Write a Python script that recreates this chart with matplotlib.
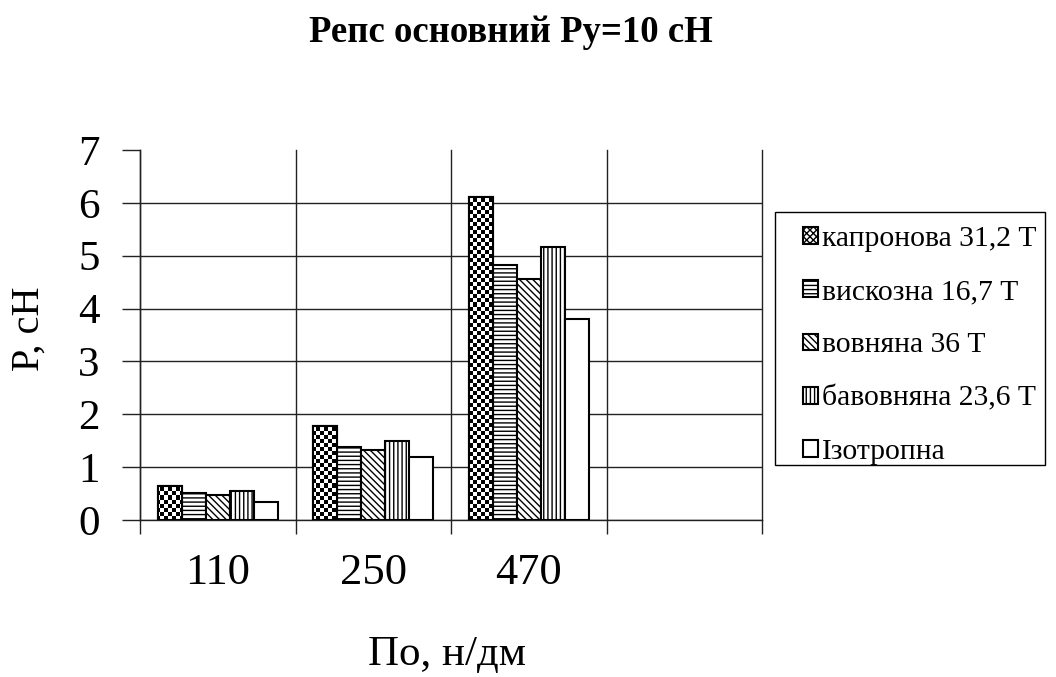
import numpy as np
import matplotlib
matplotlib.use("Agg")
import matplotlib.pyplot as plt
from matplotlib.patches import Patch, Rectangle

plt.rcParams['font.family'] = ['Liberation Serif', 'DejaVu Serif']
plt.rcParams['hatch.linewidth'] = 1.0

# Data
categories = ['110', '250', '470', '']
series_names = ['капронова 31,2 Т', 'вискозна 16,7 Т', 'вовняна 36 Т',
                'бавовняна 23,6 Т', 'Ізотропна']
kapron = [0.65, 1.78, 6.12]
viscose = [0.51, 1.39, 4.83]
wool = [0.47, 1.32, 4.56]
cotton = [0.54, 1.49, 5.17]
isotropic = [0.34, 1.20, 3.80]
series = [kapron, viscose, wool, cotton, isotropic]
hatches = [None, '----', '\\\\\\\\\\', '||||', None]

fig = plt.figure(figsize=(10.56, 6.77), dpi=100)
ax = fig.add_axes([140 / 1056, 1 - 520 / 677, 622 / 1056, 370 / 677])

w = 0.154
x = np.arange(len(kapron)) + 0.5
bars = []
for i, (vals, h) in enumerate(zip(series, hatches)):
    b = ax.bar(x + (i - 2) * w, vals, width=w, facecolor='white',
               edgecolor='black', linewidth=1.5, hatch=h, zorder=3)
    bars.append(b)

# checkerboard fill for the first series
ny, nx = 92, 155
yy, xx = np.indices((ny, nx))
checker = ((yy + xx) % 2).astype(float)
for rect in bars[0]:
    im = ax.imshow(checker, cmap='gray', extent=(0, 4, 0, 7), origin='lower',
                   interpolation='nearest', aspect='auto', zorder=3.5)
    im.set_clip_path(rect)
    r2 = plt.Rectangle(rect.get_xy(), rect.get_width(), rect.get_height(),
                       facecolor='none', edgecolor='black', linewidth=1.5,
                       zorder=4)
    ax.add_patch(r2)

ax.set_xlim(0, 4)
ax.set_ylim(0, 7)

ax.set_xticks(range(5))
ax.set_xticklabels([])
ax.set_xticks(np.arange(4) + 0.5, minor=True)
ax.set_xticklabels(categories, minor=True)
ax.tick_params(axis='x', which='major', length=10, width=1, color='#222222',
               direction='out')
ax.tick_params(axis='x', which='minor', length=0, pad=24, labelsize=32)
ax.set_yticks(range(8))
ax.tick_params(axis='y', length=13, width=1, color='#222222', direction='out',
               pad=16, labelsize=31)

ax.grid(True, which='major', axis='both', color='#222222', linewidth=1,
        zorder=0)
ax.set_axisbelow(True)
ax.yaxis.get_gridlines()[-1].set_visible(False)
for gl in ax.xaxis.get_gridlines():
    gl.set_clip_on(False)
for s in ['top', 'right']:
    ax.spines[s].set_visible(False)
for s in ['left', 'bottom']:
    ax.spines[s].set_color('#222222')
    ax.spines[s].set_linewidth(1)

ax.set_ylabel('Р, сН', fontsize=29)
ax.yaxis.set_label_coords(-(140 - 29) / 622, (520 - 329) / 370)
ax.set_xlabel('По, н/дм', fontsize=31)
ax.xaxis.set_label_coords((447 - 140) / 622, -(655 - 520) / 370)
ax.xaxis.label.set_va('center')
ax.yaxis.label.set_va('center')

fig.text(511 / 1056, 1 - 42 / 677, 'Репс основний Ру=10 сН', ha='center',
         va='baseline', fontsize=26.5, fontweight='bold')

handles = [Patch(facecolor='white', edgecolor='black', hatch='xxxxx',
                 linewidth=1.5)]
for h in hatches[1:]:
    handles.append(Patch(facecolor='white', edgecolor='black', hatch=h,
                         linewidth=1.5))
leg = fig.legend(handles, series_names, loc='upper left',
                 bbox_to_anchor=(803 / 1056, 1 - 226 / 677),
                 fontsize=21.3, frameon=False,
                 handlelength=0.5, handleheight=0.5, handletextpad=0.15,
                 labelspacing=0.92, borderpad=0, borderaxespad=0)
fig.patches.append(Rectangle((775 / 1056, 1 - 465 / 677), 270 / 1056,
                             253 / 677, transform=fig.transFigure,
                             fill=False, edgecolor='black', linewidth=1))

fig.savefig('out.png', dpi=100)
